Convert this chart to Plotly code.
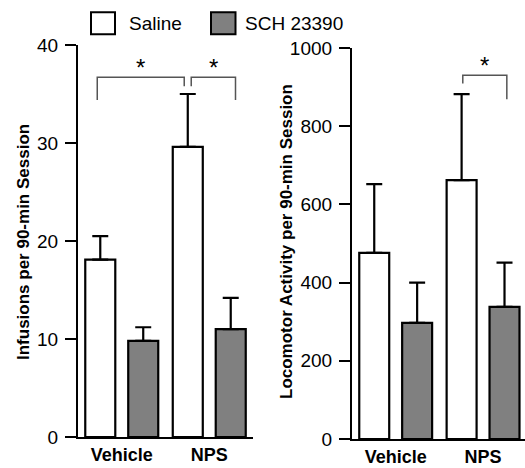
import plotly.graph_objects as go

# ---------------- data ----------------
groups = ["Vehicle", "NPS"]
series_names = ["Saline", "SCH 23390"]

infusions_saline = [18.1, 29.6]
infusions_saline_err = [2.4, 5.4]
infusions_sch = [9.8, 11.0]
infusions_sch_err = [1.4, 3.2]

loco_saline = [476, 662]
loco_saline_err = [176, 220]
loco_sch = [297, 338]
loco_sch_err = [103, 113]

infusions_ticks = [0, 10, 20, 30, 40]
loco_ticks = [0, 200, 400, 600, 800, 1000]

fill_colors = ["#ffffff", "#808080"]

W, H = 525, 468
FONT = "Liberation Sans, Arial, sans-serif"

fig = go.Figure()

bar_w = 0.343
offsets = [-0.417, 0.074]


def add_bars(vals, errs, idx, xa, ya):
    fig.add_trace(go.Bar(
        x=[0, 1], y=vals, name=series_names[idx],
        width=bar_w, offset=offsets[idx],
        marker=dict(color=fill_colors[idx], line=dict(color="black", width=2.2)),
        error_y=dict(type="data", array=errs, arrayminus=[0, 0], symmetric=False,
                     color="black", thickness=2.2, width=8),
        xaxis=xa, yaxis=ya, showlegend=False,
    ))


add_bars(infusions_saline, infusions_saline_err, 0, "x", "y")
add_bars(infusions_sch, infusions_sch_err, 1, "x", "y")
add_bars(loco_saline, loco_saline_err, 0, "x2", "y2")
add_bars(loco_sch, loco_sch_err, 1, "x2", "y2")

axis_common = dict(showline=True, linecolor="black", linewidth=2.2, showgrid=False,
                   zeroline=False, automargin=False)
ytick_font = dict(size=19, color="black", family=FONT)
xtick_font = dict(size=18, color="black", family=FONT)

fig.update_layout(
    width=W, height=H, margin=dict(l=0, r=0, t=0, b=0),
    paper_bgcolor="white", plot_bgcolor="white",
    barmode="overlay",
    font=dict(family=FONT, color="black"),
    xaxis=dict(domain=[78 / W, 253 / W], range=[-0.5, 1.5],
               tickmode="array", tickvals=[0, 1],
               ticktext=["<b>%s</b>" % g for g in groups],
               ticks="", tickfont=xtick_font, anchor="y", **axis_common),
    yaxis=dict(domain=[31 / H, 423 / H], range=[0, 40], tickvals=infusions_ticks,
               ticks="outside", ticklen=11, tickwidth=2.2, tickcolor="black",
               tickfont=ytick_font, ticklabelstandoff=3, anchor="x", **axis_common),
    xaxis2=dict(domain=[352 / W, 1.0], range=[-0.5, 1.48],
                tickmode="array", tickvals=[0, 1],
                ticktext=["<b>%s</b>" % g for g in groups],
                ticks="", tickfont=xtick_font, anchor="y2", **axis_common),
    yaxis2=dict(domain=[29 / H, 420 / H], range=[0, 1000], tickvals=loco_ticks,
                ticks="outside", ticklen=11, tickwidth=2.2, tickcolor="black",
                tickfont=ytick_font, ticklabelstandoff=3, anchor="x2", **axis_common),
)

# axis titles
fig.add_annotation(text="<b>Infusions per 90-min Session</b>", xref="paper", yref="paper",
                   x=24 / W, y=(H - 242) / H, textangle=-90, showarrow=False,
                   font=dict(size=17), xanchor="center", yanchor="middle")
fig.add_annotation(text="<b>Locomotor Activity per 90-min Session</b>", xref="paper", yref="paper",
                   x=287 / W, y=(H - 242) / H, textangle=-90, showarrow=False,
                   font=dict(size=17), xanchor="center", yanchor="middle")

# legend (drawn)
legend_items = [(91, 115, series_names[0], fill_colors[0], 126.5),
                (211, 235.5, series_names[1], fill_colors[1], 243)]
for x0, x1, label, col, tx in legend_items:
    fig.add_shape(type="rect", xref="paper", yref="paper",
                  x0=x0 / W, x1=x1 / W, y0=(H - 34.3) / H, y1=(H - 12.3) / H,
                  fillcolor=col, line=dict(color="black", width=2))
    fig.add_annotation(text=label, xref="paper", yref="paper", x=tx / W, y=(H - 23.5) / H,
                       xanchor="left", yanchor="middle", showarrow=False, font=dict(size=19))

# significance brackets
br_color = "#555555"
brackets = [
    ("x", "y", -0.28, 0.714, 36.7, 34.4, 35.8, 37.7),
    ("x", "y", 0.794, 1.30, 36.7, 35.8, 34.4, 37.7),
    ("x2", "y2", 0.768, 1.272, 930, 909, 869, 955),
]
for xr, yr, xa, xb, top, la, lb, star_y in brackets:
    fig.add_shape(type="path", xref=xr, yref=yr,
                  path=f"M {xa},{la} L {xa},{top} L {xb},{top} L {xb},{lb}",
                  line=dict(color=br_color, width=1.5))
    fig.add_annotation(text="*", xref=xr, yref=yr, x=(xa + xb) / 2, y=star_y,
                       showarrow=False, font=dict(size=24), yanchor="middle")

fig.write_html("out.html")
